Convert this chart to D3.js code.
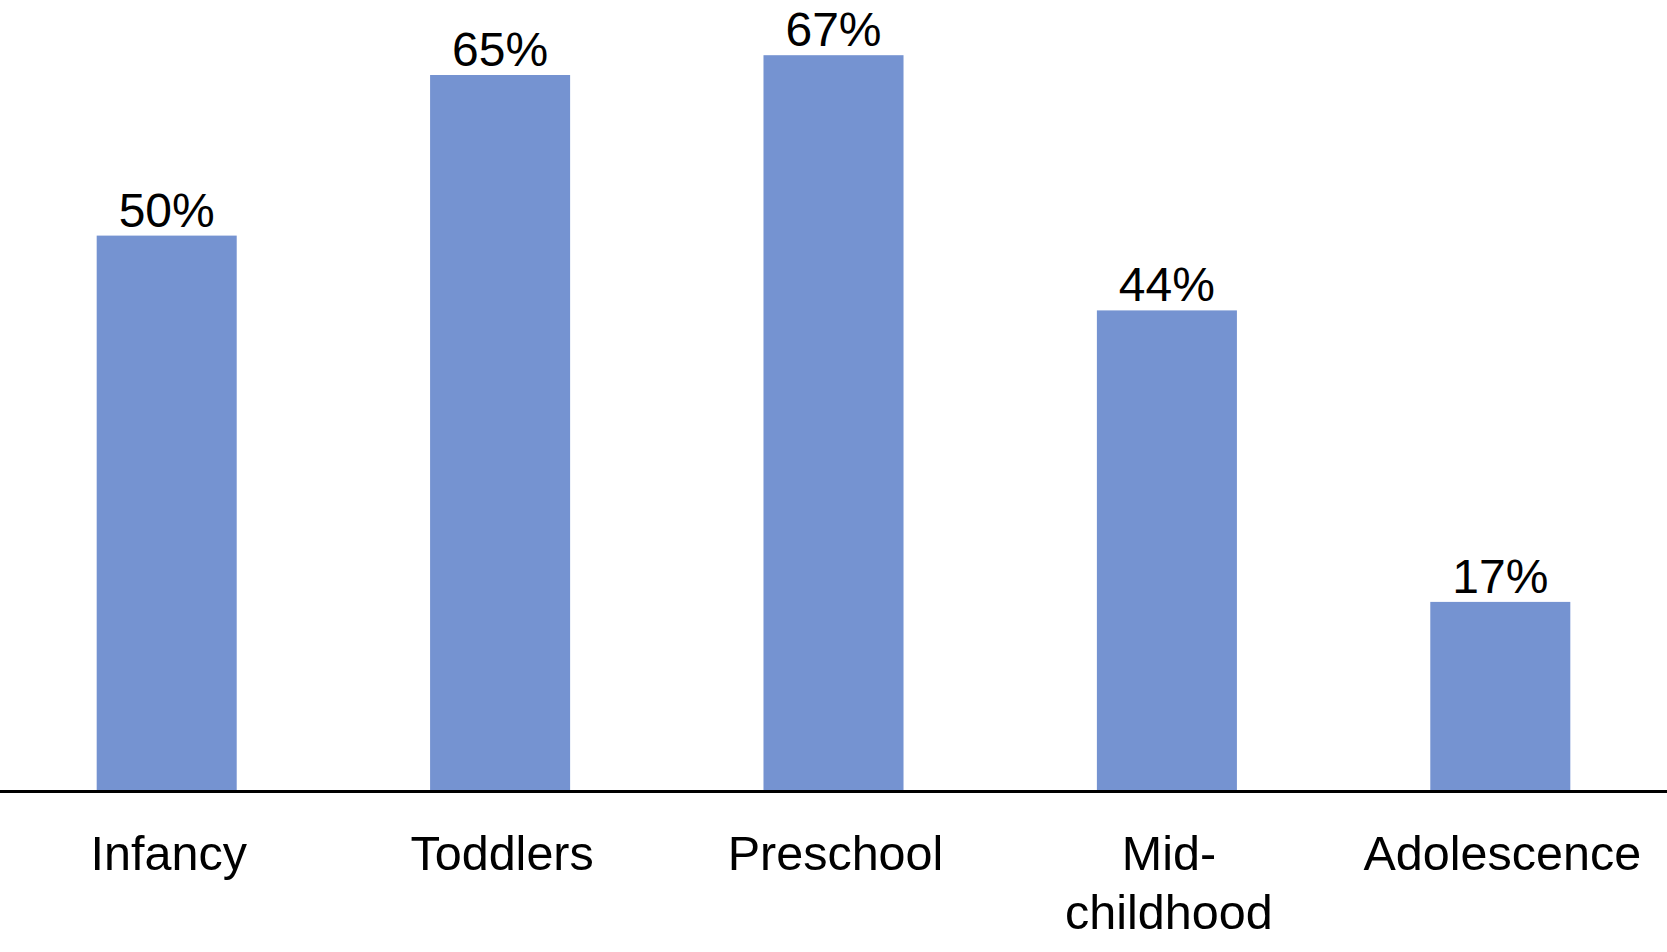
<!DOCTYPE html>
<html>
<head>
<meta charset="utf-8">
<script src="https://cdn.jsdelivr.net/npm/d3@7"></script>
<style>
    body { margin: 0; background: white; }
    text { font-family: 'Liberation Sans', Arial, Helvetica, sans-serif; fill: black; }
</style>
</head>
<body>
<div id="chart"></div>
<script>
var categories = ['Infancy', 'Toddlers', 'Preschool', 'Mid-childhood', 'Adolescence'];
var tickLines = [['Infancy'], ['Toddlers'], ['Preschool'], ['Mid-', 'childhood'], ['Adolescence']];
// bar heights; labels show them rounded
var values = [50.4, 65.0, 66.8, 43.6, 17.1];

var width = 1667;
var height = 952;
var baseY = 790;

var svg = d3.select('#chart').append('svg')
    .attr('width', width)
    .attr('height', height);

var xScale = d3.scaleBand()
    .domain(categories)
    .range([0, width])
    .paddingInner(0.58)
    .paddingOuter(0.29);

var yScale = d3.scaleLinear()
    .domain([0, 70])
    .range([baseY, baseY - 70 * 11.0]);

svg.selectAll('rect.bar')
    .data(values)
    .enter()
    .append('rect')
    .attr('class', 'bar')
    .attr('x', (d, i) => xScale(categories[i]))
    .attr('y', d => yScale(d))
    .attr('width', xScale.bandwidth())
    .attr('height', d => yScale(0) - yScale(d))
    .attr('fill', '#7593d1');

svg.selectAll('text.value')
    .data(values)
    .enter()
    .append('text')
    .attr('class', 'value')
    .attr('x', (d, i) => xScale(categories[i]) + xScale.bandwidth() / 2)
    .attr('y', d => yScale(d) - 9)
    .attr('text-anchor', 'middle')
    .attr('font-size', 48)
    .text(d => Math.round(d) + '%');

// x axis line across the whole width
svg.append('line')
    .attr('x1', 0)
    .attr('x2', width)
    .attr('y1', baseY + 1.5)
    .attr('y2', baseY + 1.5)
    .attr('stroke', 'black')
    .attr('stroke-width', 3);

var ticks = svg.selectAll('text.tick')
    .data(tickLines)
    .enter()
    .append('text')
    .attr('class', 'tick')
    .attr('text-anchor', 'middle')
    .attr('font-size', 48.5)
    .attr('transform', (d, i) => `translate(${xScale(categories[i]) + xScale.bandwidth() / 2 + 2},870)`);

ticks.selectAll('tspan')
    .data(d => d)
    .enter()
    .append('tspan')
    .attr('x', 0)
    .attr('y', (d, i) => i * 59)
    .text(d => d);
</script>
</body>
</html>
